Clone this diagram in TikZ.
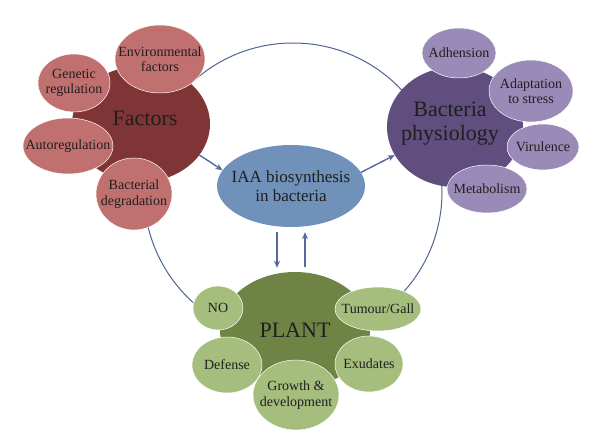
\documentclass[tikz,border=0pt]{standalone}
\usepackage{fontspec}
\setmainfont{Liberation Serif}
\usetikzlibrary{shapes.geometric,arrows.meta}
\definecolor{factorsdark}{HTML}{7F3535}
\definecolor{factorslight}{HTML}{C17070}
\definecolor{bactdark}{HTML}{5F4E7E}
\definecolor{bactlight}{HTML}{9A8AB8}
\definecolor{iaablue}{HTML}{7092BA}
\definecolor{plantdark}{HTML}{6F8444}
\definecolor{plantlight}{HTML}{A5BE7E}
\definecolor{arrowblue}{HTML}{56699A}
\definecolor{ringblue}{HTML}{4F6590}
\begin{document}
\begin{tikzpicture}[x=1pt,y=-1pt,
  blob/.style={ellipse, inner sep=0pt},
  leaf/.style={blob, draw=white, line width=0.5pt},
  hubtext/.style={inner sep=0pt, align=center, text=black!88, font=\fontsize{22}{24}\selectfont},
  leaftext/.style={inner sep=0pt, align=center, text=black!88, font=\fontsize{14}{15.5}\selectfont},
  flow/.style={draw=arrowblue, line width=1.4pt, -{Stealth[length=7pt,width=6pt]}},
  ring/.style={draw=ringblue, line width=1pt}]
\useasboundingbox (0,0) rectangle (605,433);
% outer cycle
\coordinate (mid) at (293,192);
\draw[ring] (mid) circle[radius=149];
% hubs
\node[blob, fill=factorsdark, minimum width=138, minimum height=116,
  label={[hubtext, xshift=4pt, yshift=6pt]center:Factors}] (factors) at (141,124) {};
\node[blob, fill=bactdark, minimum width=136, minimum height=120,
  label={[hubtext, xshift=-5pt, yshift=3pt]center:{Bacteria\\physiology}}] (bact) at (455,127) {};
\node[blob, fill=iaablue, minimum width=148, minimum height=82,
  label={[hubtext, font=\fontsize{17}{19}\selectfont]center:{IAA biosynthesis\\in bacteria}}] (iaa) at (291,186) {};
\node[blob, fill=plantdark, minimum width=150, minimum height=116,
  label={[hubtext]center:PLANT}] (plant) at (295,330) {};
% factors
\node[leaf, fill=factorslight, minimum width=90, minimum height=68,
  label={[leaftext]center:{Environmental\\factors}}] (envfac) at (160,59) {};
\node[leaf, fill=factorslight, minimum width=72, minimum height=58,
  label={[leaftext]center:{Genetic\\regulation}}] (genreg) at (74,83) {};
\node[leaf, fill=factorslight, minimum width=90, minimum height=56,
  label={[leaftext]center:Autoregulation}] (autoreg) at (68,146) {};
\node[leaf, fill=factorslight, minimum width=76, minimum height=72,
  label={[leaftext]center:{Bacterial\\degradation}}] (bacdeg) at (134,194) {};
% bacteria physiology
\node[leaf, fill=bactlight, minimum width=74, minimum height=50,
  label={[leaftext]center:Adhension}] (adh) at (459,53) {};
\node[leaf, fill=bactlight, minimum width=84, minimum height=62,
  label={[leaftext]center:{Adaptation\\to stress}}] (adapt) at (531,91) {};
\node[leaf, fill=bactlight, minimum width=72, minimum height=46,
  label={[leaftext]center:Virulence}] (vir) at (543,147) {};
\node[leaf, fill=bactlight, minimum width=80, minimum height=48,
  label={[leaftext]center:Metabolism}] (metab) at (487,189) {};
% plant
\node[leaf, fill=plantlight, minimum width=50, minimum height=44,
  label={[leaftext]center:NO}] (no) at (218,308) {};
\node[leaf, fill=plantlight, minimum width=86, minimum height=44,
  label={[leaftext]center:Tumour/Gall}] (tumour) at (378,309) {};
\node[leaf, fill=plantlight, minimum width=70, minimum height=56,
  label={[leaftext]center:Defense}] (defense) at (227,365) {};
\node[leaf, fill=plantlight, minimum width=68, minimum height=56,
  label={[leaftext]center:Exudates}] (exud) at (369,364) {};
\node[leaf, fill=plantlight, minimum width=86, minimum height=70,
  label={[leaftext]center:{Growth \&\\development}}] (growth) at (296,395) {};
% arrows
\draw[flow] (factors.-28) -- (iaa.167);
\draw[flow] (iaa.11) -- (bact.205);
\draw[flow, shorten <=5pt, shorten >=4pt] ([xshift=-14pt]iaa.south) -- ([xshift=-14pt]iaa.south |- plant.north);
\draw[flow, shorten <=5pt, shorten >=5pt] ([xshift=14pt]iaa.south |- plant.north) -- ([xshift=14pt]iaa.south);
\end{tikzpicture}
\end{document}
